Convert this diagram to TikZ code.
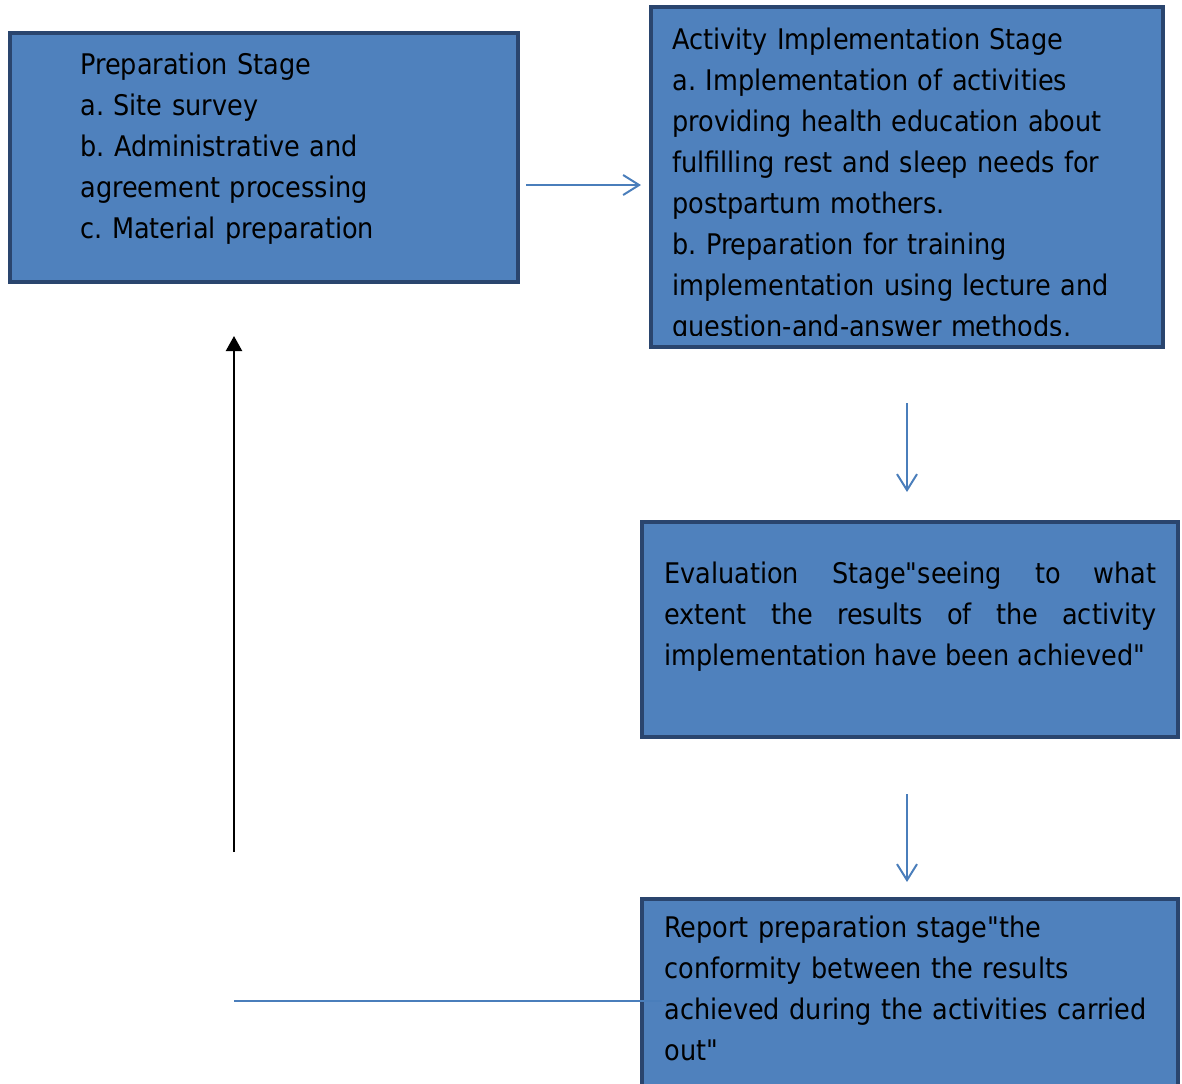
\documentclass[tikz,border=0pt]{standalone}
\usepackage{fontspec}
\newfontfamily\stagefont{DejaVu Sans Condensed}
\usetikzlibrary{arrows.meta,positioning,calc,fit}
\definecolor{stagefill}{HTML}{4F81BD}
\definecolor{stageline}{HTML}{2A456E}
\definecolor{flowblue}{HTML}{4A7EBB}
\frenchspacing

\begin{document}
\begin{tikzpicture}[
    x=0.5pt, y=-0.5pt,
    stagebox/.style={draw=stageline, fill=stagefill, line width=2.4pt, inner sep=0pt, outer sep=0pt},
    stagetext/.style={anchor=base west, inner sep=0pt, text width=#1, align=left,
        font=\stagefont\fontsize{14.2}{20.5}\selectfont},
    flowarr/.style={draw=flowblue, line width=1pt, -{Straight Barb[length=8pt,width=10pt]}},
    backarr/.style={draw=black, line width=1.1pt, -{Triangle[length=7.5pt,width=8pt]}},
    backline/.style={draw=flowblue, line width=0.8pt},
]
\useasboundingbox (0,0) rectangle (1182,1083);
\clip (0,0) rectangle (1182,1083);

% --- Stage boxes ---
\node[stagebox, fit={(10,33) (518,282)}]    (prep)   {};
\node[stagebox, fit={(651,7) (1163,347)}]   (act)    {};
\node[stagebox, fit={(642,522) (1178,737)}] (eval)   {};
\node[stagebox, fit={(642,899) (1178,1103)}] (report) {};

% --- Stage texts ---
\node[stagetext=215pt] (preptext) at (80,74) {Preparation Stage\\
    a. Site survey\\
    b. Administrative and\\
    agreement processing\\
    c. Material preparation};
\begin{scope}
  \clip (655,11) rectangle (1159,335);
  \node[stagetext=245pt] (acttext) at (672,49) {Activity Implementation Stage\\
      a. Implementation of activities\\
      providing health education about\\
      fulfilling rest and sleep needs for\\
      postpartum mothers.\\
      b. Preparation for training\\
      implementation using lecture and\\
      question-and-answer methods.};
\end{scope}
\node[stagetext=246pt, align=justify] (evaltext) at (664,583)
    {Evaluation Stage"seeing to what\linebreak
     extent the results of the activity\linebreak
     implementation have been achieved"};
\node[stagetext=250pt] (reporttext) at (664,937) {Report preparation stage"the\\
    conformity between the results\\
    achieved during the activities carried\\
    out"};

% --- Forward arrows ---
\draw[flowarr] ([shift={(8,27.5)}]prep.east) -- ([shift={(-10,0)}]act.west |- {(0,185)});
\draw[flowarr] ([shift={(0,56)}]act.south) -- ([shift={(0,-30)}]act.south |- eval.north);
\draw[flowarr] ([shift={(0,57)}]act.south |- eval.south) -- ([shift={(0,-17)}]act.south |- report.north);

% --- Feedback back to preparation ---
\coordinate (loopend)   at (234,1001);
\coordinate (loopstart) at (234,852);
\draw[backline] ([xshift=10]report.west) -- (loopend);
\draw[backarr]  (loopstart) -- ([shift={(0,54)}]loopstart |- prep.south);

\end{tikzpicture}
\end{document}
